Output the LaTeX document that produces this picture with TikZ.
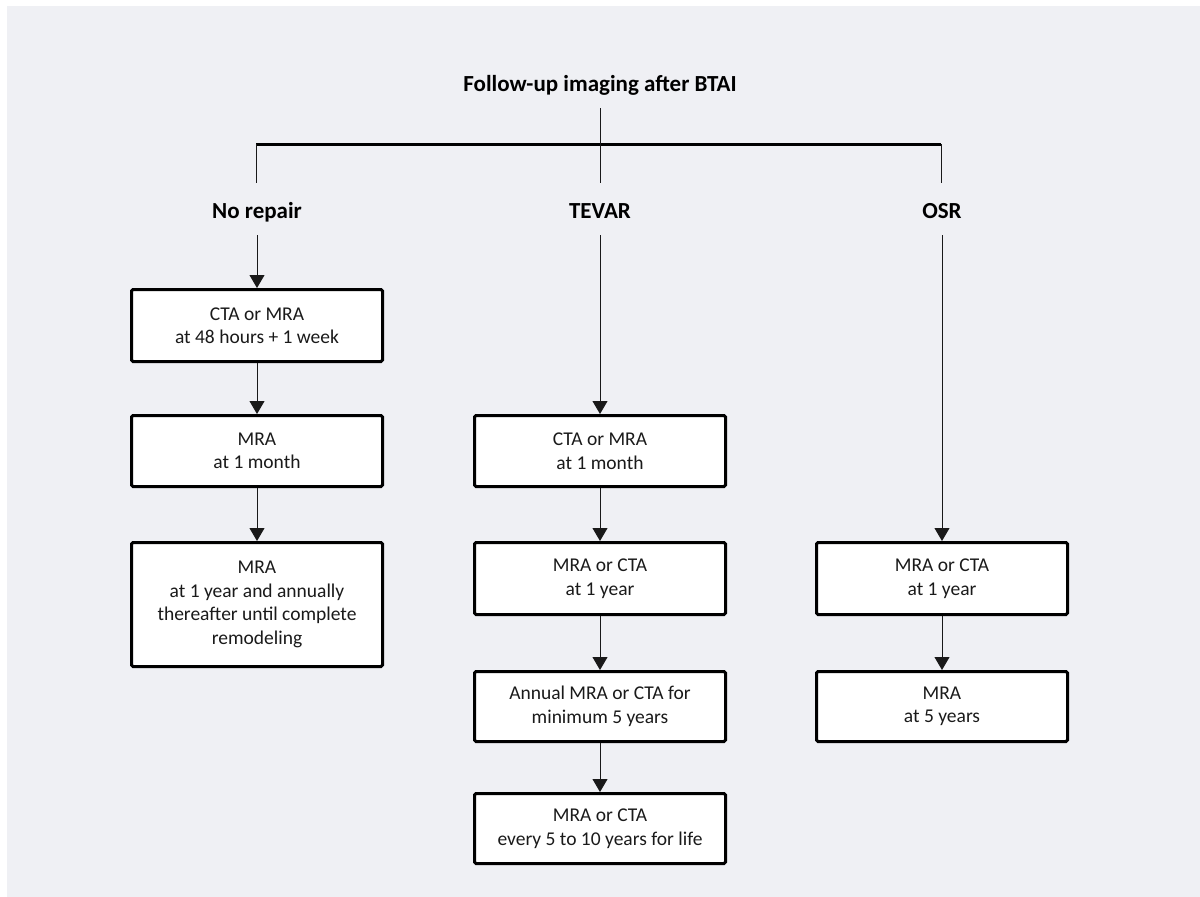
\documentclass[tikz,border=0pt]{standalone}
\usepackage{fontspec}
\setmainfont{Carlito}
\usetikzlibrary{arrows.meta}
\definecolor{bgc}{HTML}{EFF0F4}
\definecolor{txt}{HTML}{1A1A1A}
\begin{document}
\begin{tikzpicture}[x=1pt,y=-1pt,
  box/.style={draw=black, line width=3pt, fill=white, minimum width=251pt,
    align=center, inner sep=0pt, text=txt, rounded corners=1.5pt,
    font=\fontsize{19.5}{23.5}\selectfont},
  head/.style={font=\fontsize{23}{27}\selectfont\bfseries, inner sep=0pt,
    text height=16pt, text depth=5pt, anchor=base},
  conn/.style={draw=black!90, line width=0.9pt},
  arr/.style={conn, -{Triangle[width=15pt,length=13pt]}},
  bar/.style={draw=black, line width=3pt},
]
\useasboundingbox (0,0) rectangle (1200,897);
\fill[white] (0,0) rectangle (1200,897);
\fill[bgc] (7,6) rectangle (1200,897);

% headings
\node[head] (title) at (600,91) {Follow-up imaging after BTAI};
\node[head] (norep) at (257,218) {No repair};
\node[head] (tevar) at (600,218) {TEVAR};
\node[head] (osr) at (942,218) {OSR};

% boxes
\node[box, minimum height=72pt] (nr1) at (257,325.5) {CTA or MRA\\at 48 hours + 1 week};
\node[box, minimum height=71pt] (nr2) at (257,451) {MRA\\at 1 month};
\node[box, minimum height=124pt] (nr3) at (257,604.5) {MRA\\at 1 year and annually\\thereafter until complete\\remodeling};

\node[box, minimum height=71pt] (tv1) at (600,451) {CTA or MRA\\at 1 month};
\node[box, minimum height=72pt] (tv2) at (600,578.5) {MRA or CTA\\at 1 year};
\node[box, minimum height=70pt] (tv3) at (600,706.5) {Annual MRA or CTA for\\minimum 5 years};
\node[box, minimum height=70pt] (tv4) at (600,828.5) {MRA or CTA\\every 5 to 10 years for life};

\node[box, minimum height=72pt] (os1) at (942,578.5) {MRA or CTA\\at 1 year};
\node[box, minimum height=70pt] (os2) at (942,706.5) {MRA\\at 5 years};

% bar and branches
\coordinate (barL) at (256,144);
\coordinate (barR) at (941,144);
\draw[bar] (barL) -- (barR);
\draw[conn, shorten <=17pt, shorten >=35pt] (title.base) -- (tevar.base);
\draw[conn] (barL) -- (256,183);
\draw[conn] (barR) -- (941,183);

% arrows
\draw[arr, shorten <=17pt] (norep.base) -- (nr1.north);
\draw[arr] (nr1.south) -- (nr2.north);
\draw[arr] (nr2.south) -- (nr3.north);
\draw[arr, shorten <=17pt] (tevar.base) -- (tv1.north);
\draw[arr] (tv1.south) -- (tv2.north);
\draw[arr] (tv2.south) -- (tv3.north);
\draw[arr] (tv3.south) -- (tv4.north);
\draw[arr, shorten <=17pt] (osr.base) -- (os1.north);
\draw[arr] (os1.south) -- (os2.north);
\end{tikzpicture}
\end{document}
